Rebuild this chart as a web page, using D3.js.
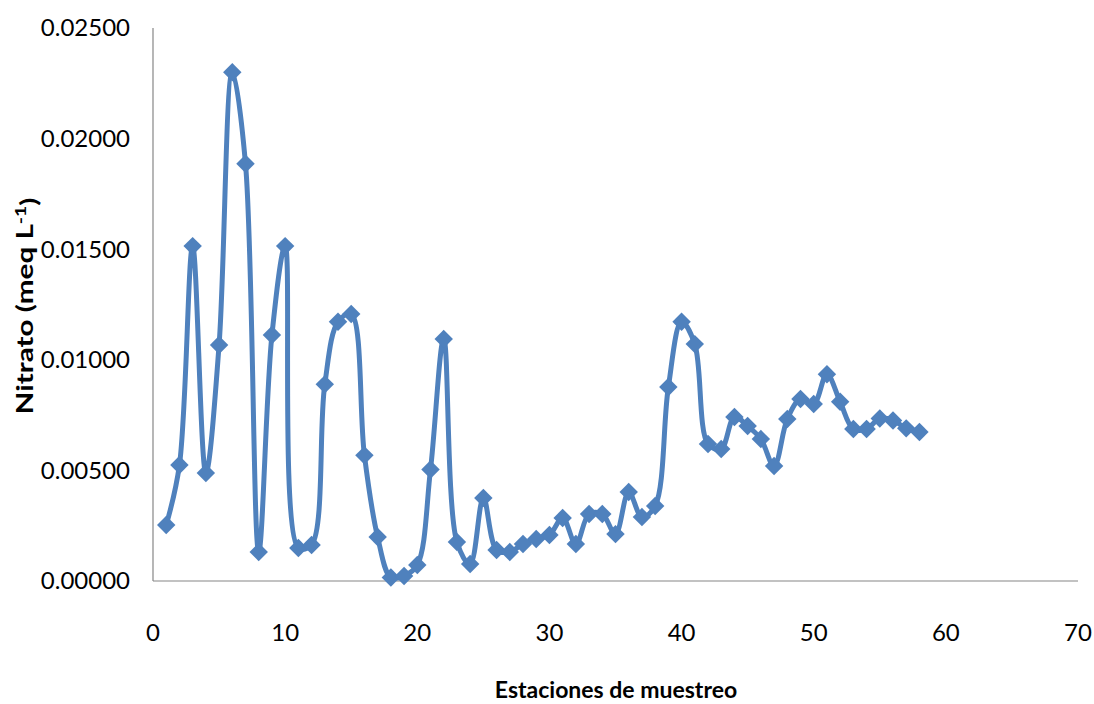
<!DOCTYPE html>
<html><head><meta charset="utf-8">
<script src="https://cdn.jsdelivr.net/npm/d3@7"></script>
<style>
html,body{margin:0;padding:0;background:#fff;}
svg{display:block;}
text{font-family:Lato, "Open Sans", sans-serif;fill:#000;}
</style></head>
<body><svg id="c" width="1094" height="704"></svg>
<script>
const stations = d3.range(1, 59);
const nitrato = [0.00253,0.00524,0.01514,0.00488,0.01067,0.02300,0.01886,0.00131,0.01112,0.01514,
0.00149,0.00163,0.00889,0.01172,0.01207,0.00568,0.00199,0.00016,0.00023,0.00072,
0.00504,0.01094,0.00176,0.00077,0.00375,0.00140,0.00131,0.00167,0.00190,0.00208,
0.00285,0.00167,0.00303,0.00303,0.00212,0.00402,0.00289,0.00339,0.00877,0.01172,
0.01071,0.00619,0.00597,0.00741,0.00701,0.00642,0.00520,0.00732,0.00823,0.00800,
0.00935,0.00810,0.00687,0.00687,0.00735,0.00726,0.00690,0.00674];
const xTicks = [0,10,20,30,40,50,60,70];
const yTicks = [0,0.005,0.010,0.015,0.020,0.025];

const svg = d3.select("#c");
const x = d3.scaleLinear().domain([0,70]).range([153,1078]);
const y = d3.scaleLinear().domain([0,0.025]).range([581,28]);
const color = "#4F81BD";

// axes lines
svg.append("line").attr("x1",x(0)).attr("x2",x(0)).attr("y1",y(0.025)).attr("y2",y(0))
  .attr("stroke","#868686").attr("stroke-width",1.2);
svg.append("line").attr("x1",x(0)).attr("x2",x(70)).attr("y1",y(0)).attr("y2",y(0))
  .attr("stroke","#868686").attr("stroke-width",1.2);

// tick labels
svg.append("g").selectAll("text").data(yTicks).join("text")
  .attr("x",130).attr("y",d=>y(d)).attr("dy","0.35em").attr("text-anchor","end")
  .style("font-size","24px").text(d=>d3.format(".5f")(d));
svg.append("g").selectAll("text").data(xTicks).join("text")
  .attr("x",d=>x(d)).attr("y",641).attr("text-anchor","middle")
  .style("font-size","24px").text(d=>d);

// titles
svg.append("text").attr("x",616).attr("y",698).attr("text-anchor","middle")
  .style("font-size","23px").style("font-weight","bold").text("Estaciones de muestreo");
const yt = svg.append("text").attr("transform","translate(33,306) rotate(-90) scale(1.29,1)")
  .attr("text-anchor","middle").style("font-size","23px").style("font-weight","bold");
yt.append("tspan").text("Nitrato (meq  L");
yt.append("tspan").attr("dy","-0.45em").style("font-size","15px").text("-1");
yt.append("tspan").attr("dy","0.45em").text(")");

// line
const line = d3.line().x((d,i)=>x(stations[i])).y(d=>y(d)).curve(d3.curveCatmullRom.alpha(0.5));
svg.append("path").datum(nitrato).attr("d",line).attr("fill","none")
  .attr("stroke",color).attr("stroke-width",5).attr("stroke-linejoin","round");

// markers
const sym = d3.symbol().type(d3.symbolSquare).size(170);
svg.append("g").selectAll("path").data(nitrato).join("path")
  .attr("d",sym).attr("fill",color)
  .attr("transform",(d,i)=>`translate(${x(stations[i])},${y(d)}) rotate(45)`);
</script></body></html>
